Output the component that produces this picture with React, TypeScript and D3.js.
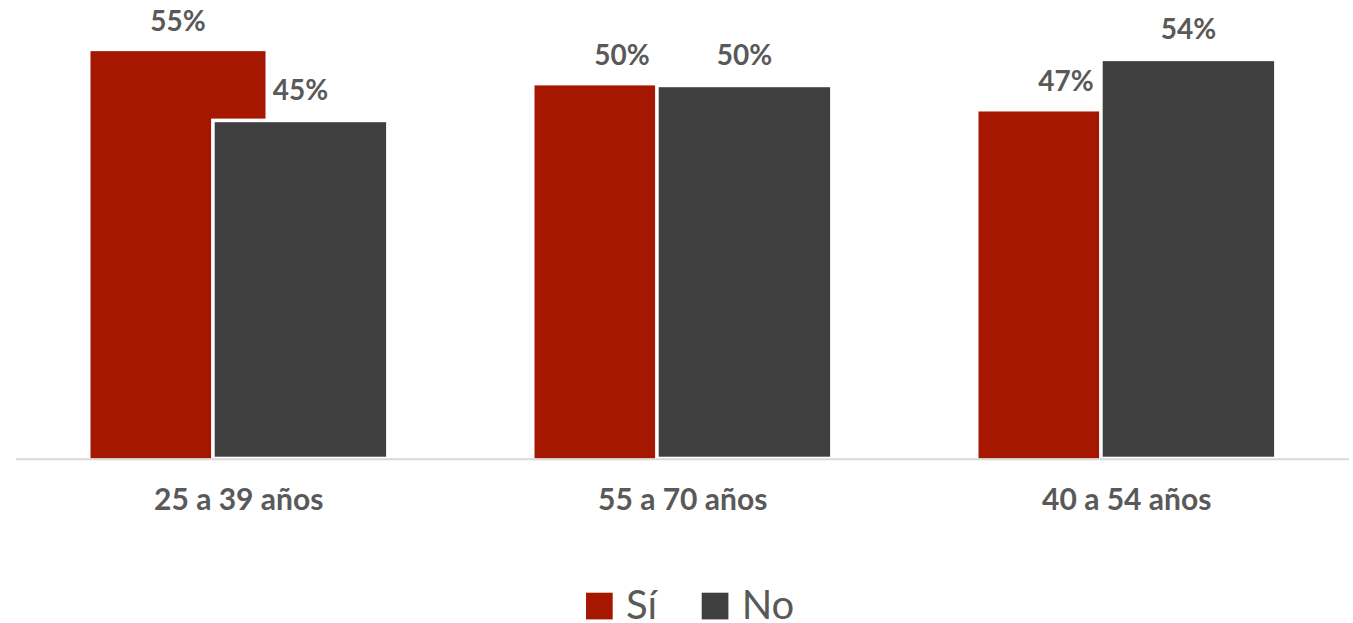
import React from 'react';
import * as d3 from 'd3';

// chart data
const categories = ['25 a 39 años', '55 a 70 años', '40 a 54 años'];
const series = ['Sí', 'No'];
const siValues = [54.7, 50.1, 46.6];
const noValues = [45.4, 50.1, 53.6];
const valueLabels = [
  ['55%', '50%', '47%'],
  ['45%', '50%', '54%'],
];

const colors = ['#A51700', '#3F3F3F'];
const W = 1353;
const H = 623;
const BASE = 458.5;
const BAR_W = 175;
const textColor = '#595959';

const App: React.FC = () => {
  const x0 = d3.scaleBand<string>().domain(categories).range([16.7, 1348.7]).padding(0);
  // offset of each series' bar start from the category center
  const x1 = d3.scalePoint<string>().domain(series).range([-148.2, -25.8]);
  const y = d3.scaleLinear().domain([0, 60]).range([BASE, BASE - 60 * 7.447]);

  const allValues = [siValues, noValues];

  return (
    <svg
      width={W}
      height={H}
      style={{ position: 'absolute', left: 0, top: 0, background: '#fff' }}
      fontFamily="Lato, 'Open Sans', sans-serif"
    >
      {series.map((s, si) => (
        <g key={s}>
          {categories.map((c, ci) => {
            const cx = (x0(c) as number) + x0.bandwidth() / 2;
            const bx = cx + (x1(s) as number);
            const v = allValues[si][ci];
            const top = y(v);
            return (
              <g key={c}>
                <rect
                  x={bx}
                  y={top}
                  width={BAR_W}
                  height={BASE - top}
                  fill={colors[si]}
                  stroke={si === 1 ? '#fff' : 'none'}
                  strokeWidth={3.6}
                />
                <text
                  x={bx + BAR_W / 2}
                  y={top - 20}
                  textAnchor="middle"
                  fontSize={28}
                  fontWeight="bold"
                  fill={textColor}
                >
                  {valueLabels[si][ci]}
                </text>
              </g>
            );
          })}
        </g>
      ))}
      <line x1={16} x2={1349} y1={BASE + 0.8} y2={BASE + 0.8} stroke="#D9D9D9" strokeWidth={2} />
      {categories.map((c) => (
        <text
          key={c}
          x={(x0(c) as number) + x0.bandwidth() / 2}
          y={509.5}
          textAnchor="middle"
          fontSize={30}
          fontWeight="bold"
          fill={textColor}
        >
          {c}
        </text>
      ))}
      {/* legend */}
      {series.map((s, i) => {
        const lx = [586, 701.7][i];
        return (
          <g key={s}>
            <rect x={lx} y={592.7} width={26.7} height={26.7} fill={colors[i]} />
            <text x={lx + 40} y={619.3} fontSize={40} fill={textColor}>
              {s}
            </text>
          </g>
        );
      })}
    </svg>
  );
};

export default App;
